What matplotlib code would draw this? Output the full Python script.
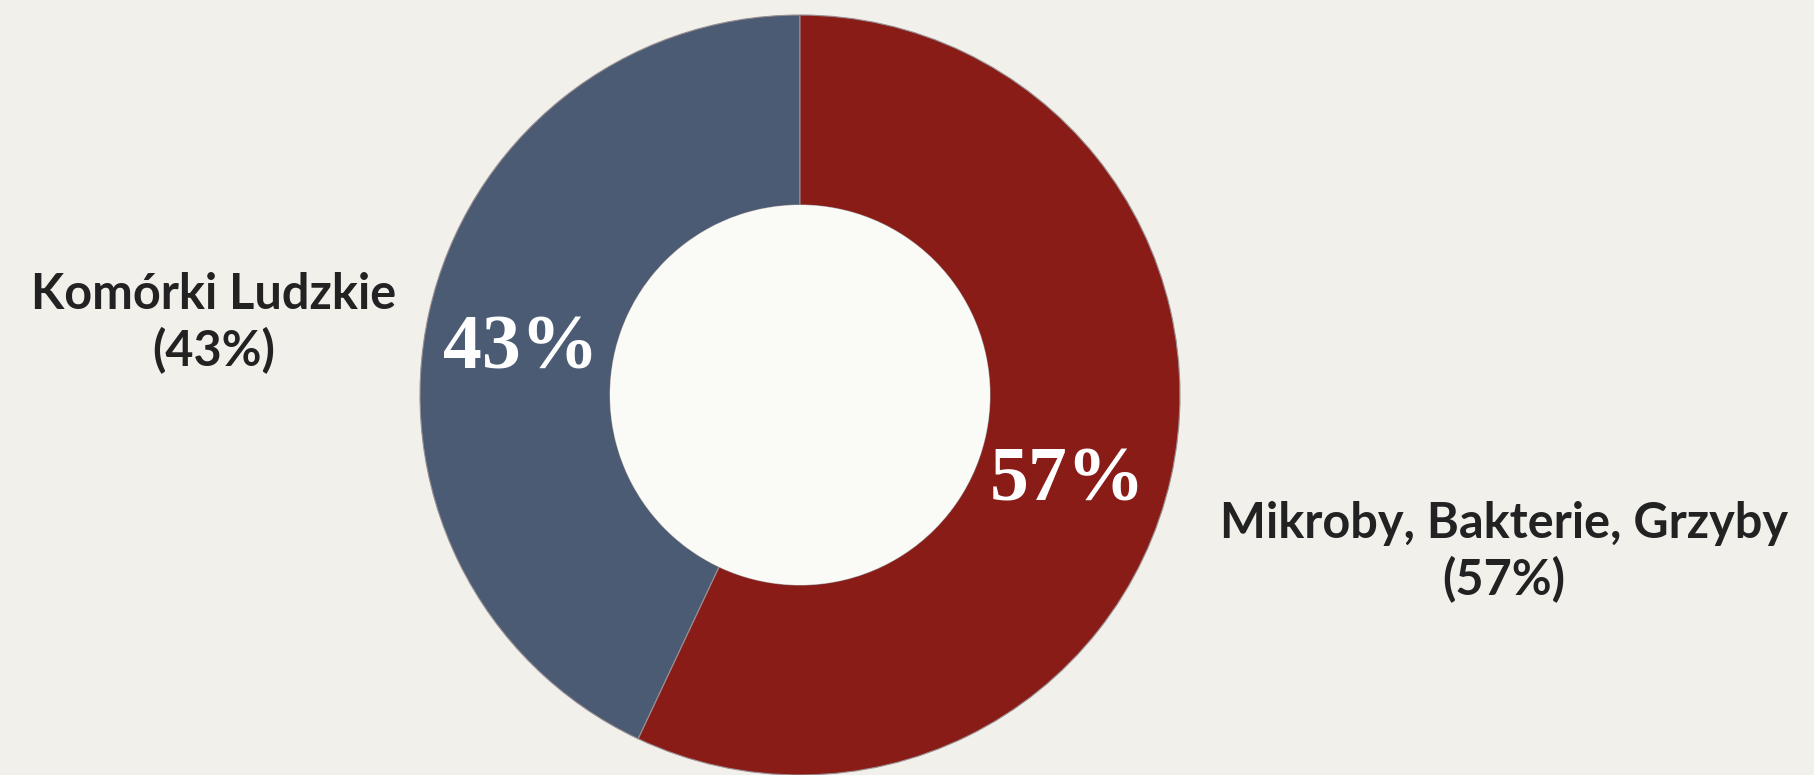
import matplotlib.pyplot as plt
from matplotlib.patches import Circle

# dane
labels = ["Komórki Ludzkie", "Mikroby, Bakterie, Grzyby"]
values = [43, 57]
colors = ["#4a5b73", "#8a1c18"]

bg = "#f1f0eb"
fig = plt.figure(figsize=(18.14, 7.75), dpi=100, facecolor=bg)
ax = fig.add_axes([0, 0, 1, 1])
ax.set_facecolor(bg)

cx, cy, r = 800, 380, 380
wedges, _ = ax.pie(values, colors=colors, startangle=90, counterclock=True,
                   center=(cx, cy), radius=r, frame=True,
                   wedgeprops=dict(width=r / 2, edgecolor="#9a8f92", linewidth=0.8))
ax.set_xlim(0, 1814)
ax.set_ylim(0, 775)
ax.axis("off")
ax.add_patch(Circle((cx, cy), r / 2, facecolor="#fafaf7", edgecolor="none", zorder=5))

# procenty wewnątrz pierścienia
ax.text(521, 425, f"{values[0]}%", color="white", fontsize=56, fontweight="bold",
        family="Liberation Serif", ha="center", va="center")
ax.text(1067, 293, f"{values[1]}%", color="white", fontsize=56, fontweight="bold",
        family="Liberation Serif", ha="center", va="center")

# etykiety
ax.text(214, 452, f"{labels[0]}\n({values[0]}%)", fontsize=35, family="Lato",
        fontweight="bold", color="#222222", ha="center", va="center", linespacing=1.25)
ax.text(1504, 223, f"{labels[1]}\n({values[1]}%)", fontsize=35, family="Lato",
        fontweight="bold", color="#222222", ha="center", va="center", linespacing=1.25)

fig.savefig("out.png", dpi=100, facecolor=bg)
